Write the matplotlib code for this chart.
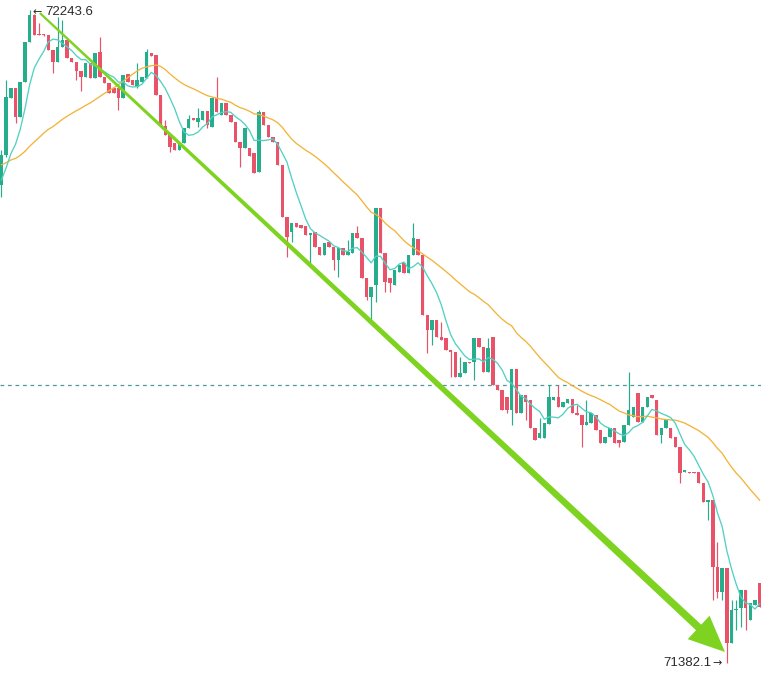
import numpy as np
import pandas as pd
import matplotlib
matplotlib.use("Agg")
import matplotlib.pyplot as plt
from matplotlib.patches import Polygon

# ---------------- data (prices) ----------------
opens = [72012.8, 72052.4, 72127.6, 72140.8, 72102.6, 72148.8, 72201.6, 72237.2, 72212.1, 72212.1,
         72210.8, 72191.0, 72175.2, 72195.0, 72204.2, 72180.4, 72175.2, 72163.3, 72155.4, 72173.8,
         72154.0, 72188.4, 72155.4, 72147.4, 72140.8, 72140.8, 72127.6, 72159.3, 72151.4, 72142.2,
         72148.8, 72154.0, 72187.0, 72184.4, 72131.6, 72090.7, 72080.1, 72068.2, 72059.0, 72068.2,
         72088.0, 72101.2, 72096.0, 72098.6, 72110.5, 72089.4, 72127.6, 72105.2, 72121.0, 72105.2,
         72096.0, 72069.6, 72061.6, 72061.6, 72055.0, 72030.0, 72109.2, 72092.0, 72076.2, 72069.6,
         72039.2, 71970.6, 71950.8, 71962.6, 71960.0, 71958.7, 71946.8, 71950.8, 71931.0, 71920.4,
         71937.6, 71931.0, 71913.8, 71929.6, 71920.4, 71923.0, 71949.4, 71942.8, 71890.0, 71865.0,
         71880.8, 71982.4, 71923.0, 71890.0, 71880.8, 71898.0, 71909.8, 71896.6, 71920.4, 71941.5,
         71920.4, 71841.2, 71821.4, 71834.6, 71812.2, 71810.8, 71795.0, 71792.4, 71759.4, 71764.6,
         71779.2, 71779.2, 71810.8, 71799.0, 71766.0, 71812.2, 71748.8, 71742.2, 71733.0, 71715.8,
         71769.9, 71711.8, 71735.6, 71729.0, 71692.0, 71678.8, 71678.8, 71697.3, 71729.0, 71733.0,
         71719.8, 71725.0, 71730.3, 71711.8, 71709.2, 71696.0, 71698.6, 71709.2, 71689.4, 71672.2,
         71680.2, 71692.0, 71676.2, 71673.6, 71696.0, 71706.6, 71738.2, 71700.0, 71719.8, 71735.6,
         71729.0, 71682.8, 71692.0, 71692.0, 71680.2, 71667.0, 71634.0, 71634.0, 71634.0, 71634.0,
         71619.4, 71594.4, 71597.0, 71508.6, 71475.6, 71507.2, 71408.2, 71451.8, 71454.4, 71478.2,
         71438.6, 71458.4, 71487.4]
highs = [72059.0, 72151.4, 72140.8, 72140.8, 72148.8, 72201.6, 72243.6, 72238.5, 72226.6, 72212.1,
         72210.8, 72191.0, 72234.6, 72230.6, 72204.2, 72180.4, 72175.2, 72163.3, 72173.8, 72173.8,
         72187.0, 72208.2, 72155.4, 72147.4, 72140.8, 72140.8, 72158.0, 72159.3, 72151.4, 72173.8,
         72155.4, 72192.3, 72187.0, 72184.4, 72131.6, 72098.6, 72080.1, 72068.2, 72068.2, 72088.0,
         72105.2, 72101.2, 72114.4, 72110.5, 72110.5, 72127.6, 72155.4, 72121.0, 72121.0, 72105.2,
         72096.0, 72069.6, 72088.0, 72061.6, 72055.0, 72111.8, 72109.2, 72092.0, 72076.2, 72069.6,
         72039.2, 71970.6, 71962.6, 71962.6, 71960.0, 71958.7, 71949.4, 71950.8, 71931.0, 71936.2,
         71937.6, 71931.0, 71929.6, 71929.6, 71940.2, 71949.4, 71958.7, 71942.8, 71890.0, 71878.2,
         71982.4, 71982.4, 71923.0, 71890.0, 71900.6, 71907.2, 71909.8, 71920.4, 71962.6, 71941.5,
         71920.4, 71841.2, 71834.6, 71834.6, 71832.0, 71810.8, 71795.0, 71792.4, 71785.8, 71779.2,
         71779.2, 71810.8, 71810.8, 71799.0, 71810.8, 71812.2, 71748.8, 71742.2, 71733.0, 71769.9,
         71769.9, 71735.6, 71735.6, 71729.0, 71692.0, 71705.2, 71698.6, 71748.8, 71733.0, 71748.8,
         71726.4, 71730.3, 71730.3, 71722.4, 71709.2, 71729.0, 71711.8, 71709.2, 71689.4, 71680.2,
         71692.0, 71692.0, 71676.2, 71696.0, 71766.0, 71719.8, 71738.2, 71719.8, 71733.0, 71735.6,
         71729.0, 71692.0, 71702.6, 71692.0, 71680.2, 71667.0, 71636.6, 71634.0, 71634.0, 71634.0,
         71619.4, 71597.0, 71597.0, 71541.6, 71507.2, 71507.2, 71465.0, 71465.0, 71478.2, 71478.2,
         71461.0, 71465.0, 71487.4]
lows = [71997.0, 72050.0, 72127.6, 72094.6, 72102.6, 72148.8, 72201.6, 72210.8, 72210.8, 72209.5,
        72191.0, 72160.6, 72175.2, 72195.0, 72180.4, 72175.2, 72151.4, 72136.9, 72155.4, 72154.0,
        72154.0, 72155.4, 72147.4, 72134.2, 72134.2, 72111.8, 72127.6, 72148.8, 72144.8, 72140.8,
        72148.8, 72154.0, 72183.1, 72131.6, 72092.0, 72078.8, 72056.4, 72059.0, 72059.0, 72068.2,
        72088.0, 72098.6, 72089.4, 72098.6, 72088.0, 72089.4, 72109.2, 72105.2, 72105.2, 72096.0,
        72069.6, 72036.6, 72061.6, 72051.1, 72028.6, 72030.0, 72092.0, 72076.2, 72069.6, 72039.2,
        71970.6, 71917.8, 71937.6, 71957.4, 71956.0, 71946.8, 71909.8, 71931.0, 71920.4, 71920.4,
        71931.0, 71900.6, 71891.4, 71920.4, 71920.4, 71923.0, 71942.8, 71890.0, 71861.0, 71834.6,
        71858.4, 71923.0, 71871.6, 71871.6, 71880.8, 71898.0, 71896.6, 71896.6, 71920.4, 71920.4,
        71841.2, 71791.0, 71801.6, 71812.2, 71808.2, 71795.0, 71759.4, 71759.4, 71759.4, 71764.6,
        71777.8, 71755.4, 71799.0, 71766.0, 71766.0, 71748.8, 71742.2, 71715.8, 71711.8, 71696.0,
        71711.8, 71711.8, 71702.6, 71692.0, 71676.2, 71678.8, 71678.8, 71697.3, 71729.0, 71719.8,
        71719.8, 71725.0, 71711.8, 71709.2, 71667.0, 71696.0, 71698.6, 71689.4, 71672.2, 71672.2,
        71680.2, 71672.2, 71667.0, 71673.6, 71696.0, 71706.6, 71700.0, 71700.0, 71719.8, 71731.6,
        71682.8, 71672.2, 71692.0, 71678.8, 71667.0, 71619.4, 71634.0, 71632.6, 71632.6, 71619.4,
        71594.4, 71570.6, 71465.0, 71467.6, 71465.0, 71382.1, 71408.2, 71425.4, 71429.4, 71425.4,
        71438.6, 71458.4, 71455.8]
closes = [72052.4, 72129.0, 72140.8, 72102.6, 72148.8, 72201.6, 72237.2, 72210.8, 72210.8, 72210.8,
          72191.0, 72175.2, 72195.0, 72204.2, 72180.4, 72175.2, 72163.3, 72155.4, 72173.8, 72154.0,
          72187.0, 72155.4, 72147.4, 72134.2, 72134.2, 72127.6, 72158.0, 72148.8, 72144.8, 72151.4,
          72155.4, 72188.4, 72183.1, 72131.6, 72092.0, 72078.8, 72063.0, 72059.0, 72068.2, 72088.0,
          72099.9, 72098.6, 72101.2, 72110.5, 72092.0, 72127.6, 72109.2, 72121.0, 72105.2, 72096.0,
          72069.6, 72061.6, 72088.0, 72051.1, 72028.6, 72109.2, 72092.0, 72076.2, 72069.6, 72039.2,
          71970.6, 71944.2, 71962.6, 71957.4, 71956.0, 71946.8, 71949.4, 71931.0, 71920.4, 71936.2,
          71931.0, 71913.8, 71929.6, 71920.4, 71924.4, 71949.4, 71942.8, 71890.0, 71865.0, 71878.2,
          71982.4, 71923.0, 71884.8, 71883.4, 71900.6, 71907.2, 71896.6, 71920.4, 71942.8, 71920.4,
          71841.2, 71821.4, 71834.6, 71812.2, 71808.2, 71795.0, 71792.4, 71759.4, 71764.6, 71779.2,
          71777.8, 71810.8, 71799.0, 71766.0, 71797.6, 71748.8, 71742.2, 71715.8, 71715.8, 71769.9,
          71711.8, 71735.6, 71726.4, 71692.0, 71676.2, 71685.4, 71698.6, 71733.0, 71733.0, 71719.8,
          71726.4, 71730.3, 71711.8, 71709.2, 71696.0, 71700.0, 71711.8, 71689.4, 71672.2, 71680.2,
          71692.0, 71672.2, 71672.2, 71696.0, 71715.8, 71719.8, 71700.0, 71719.8, 71733.0, 71731.6,
          71682.8, 71692.0, 71702.6, 71678.8, 71667.0, 71632.6, 71636.6, 71632.6, 71632.6, 71619.4,
          71594.4, 71597.0, 71508.6, 71475.6, 71507.2, 71408.2, 71451.8, 71453.1, 71478.2, 71454.4,
          71461.0, 71465.0, 71455.8]
# closes of the candles just before the visible window (only used by the moving averages)
prior_closes = [72045, 72035, 72040, 72030, 72042, 72038, 72036, 72044, 72033, 72040,
                72062, 72055, 72060, 72058, 72064, 72052, 72057, 72061, 72056, 72060,
                72030, 72024, 72026, 72016, 72012, 72015, 72011, 72014, 72016]
fast_period = 7
slow_period = 30
high_label = 72243.6
low_label = 71382.1
high_index = 6
low_index = 155
ref_price = 71748.8
arrow_start = (8.2, 72239.8)
arrow_end = (154.6, 71396.4)

GREEN = "#26AD8C"
RED = "#E9536A"
TEAL = "#52D1C3"
ORANGE = "#F2B43A"
ARROW = "#7ED321"
DASH = "#4E9A9A"

# ---------------- figure ----------------
fig = plt.figure(figsize=(7.61, 6.87), dpi=100)
ax = fig.add_axes([0, 0, 1, 1])
ax.set_xlim(-0.32, 162.3)
ax.set_ylim(71350.2, 72257.0)
ax.axis("off")

o = np.array(opens); h = np.array(highs); l = np.array(lows); c = np.array(closes)
x = np.arange(len(c))
up = c >= o
cols = np.where(up, GREEN, RED)

ax.vlines(x, l, h, colors=cols, linewidth=0.85, zorder=2)
bottom = np.minimum(o, c)
height = np.maximum(np.abs(c - o), 1.5)
ax.bar(x, height, bottom=bottom, width=0.74, color=cols, linewidth=0, zorder=3)

allc = pd.Series(prior_closes + closes)
npre = len(prior_closes)
ma_fast = allc.rolling(fast_period).mean().values[npre:]
ma_slow = allc.rolling(slow_period).mean().values[npre:]
ax.plot(x, ma_slow, color=ORANGE, lw=0.95, zorder=4)
ax.plot(x, ma_fast, color=TEAL, lw=0.95, zorder=4)

ax.axhline(ref_price, color=DASH, lw=0.9, ls=(0, (3, 3)), zorder=1)

# tapered arrow
p0 = ax.transData.transform(arrow_start)
p1 = ax.transData.transform(arrow_end)
d = p1 - p0
u = d / np.hypot(*d)
nrm = np.array([-u[1], u[0]])
head_len, head_half, w0, w1 = 36.0, 16.0, 1.1, 3.8
base = p1 - u * head_len
pts = np.array([p0 + nrm * w0, base + nrm * w1, base + nrm * head_half, p1,
                base - nrm * head_half, base - nrm * w1, p0 - nrm * w0])
ax.add_patch(Polygon(ax.transData.inverted().transform(pts), closed=True,
                     facecolor=ARROW, edgecolor="none", zorder=5))

num_font = ["Liberation Sans", "DejaVu Sans"]
tcol = "#2b2b2b"
# high label: arrow then number
ax.annotate("\u2190", xy=(high_index, high_label), xytext=(2, -1.5),
            textcoords="offset points", ha="left", va="center", fontsize=8,
            color=tcol, family="DejaVu Sans")
ax.annotate(f"{high_label}", xy=(high_index, high_label), xytext=(11.5, -1.5),
            textcoords="offset points", ha="left", va="center", fontsize=9.5,
            color=tcol, family=num_font)
# low label: number then arrow
ax.annotate("\u2192", xy=(low_index, low_label), xytext=(-3.5, 0),
            textcoords="offset points", ha="right", va="center", fontsize=8,
            color=tcol, family="DejaVu Sans")
ax.annotate(f"{low_label}", xy=(low_index, low_label), xytext=(-11, 0),
            textcoords="offset points", ha="right", va="center", fontsize=9.5,
            color=tcol, family=num_font)

fig.savefig("out.png", dpi=100, facecolor="white")
